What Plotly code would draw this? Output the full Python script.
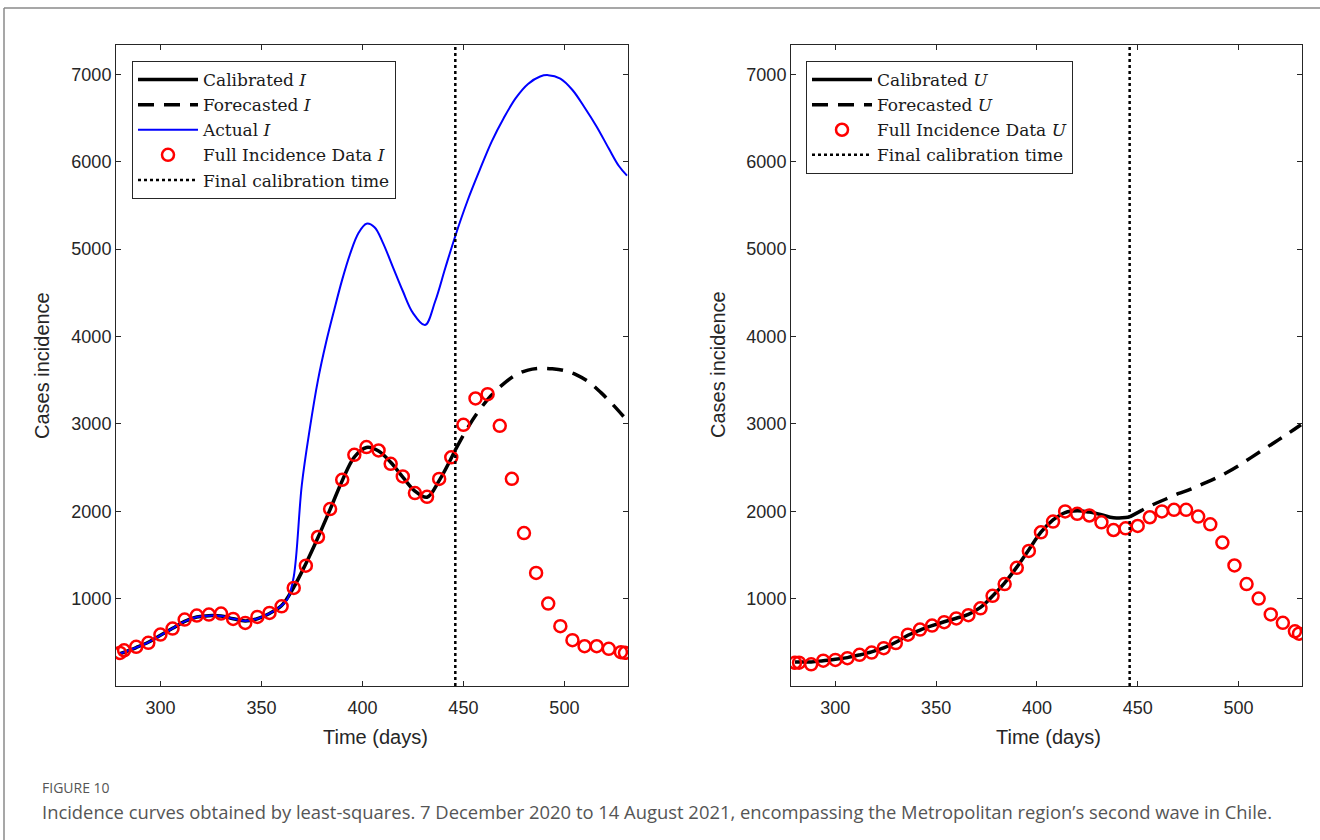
import plotly.graph_objects as go

# ---------------- data ----------------
t_data = [280, 282, 288, 294, 300, 306, 312, 318, 324, 330, 336, 342, 348, 354, 360, 366,
          372, 378, 384, 390, 396, 402, 408, 414, 420, 426, 432, 438, 444, 450, 456, 462,
          468, 474, 480, 486, 492, 498, 504, 510, 516, 522, 528, 530]

I_data = [379, 409, 448, 494, 589, 657, 760, 806, 817, 829, 768, 722, 791, 836, 912, 1122,
          1377, 1705, 2025, 2360, 2646, 2734, 2695, 2543, 2398, 2208, 2165, 2370, 2617, 2989, 3290, 3339,
          2977, 2371, 1750, 1294, 943, 684, 524, 455, 455, 425, 387, 380]

U_data = [267, 267, 248, 290, 298, 318, 357, 383, 433, 491, 587, 646, 691, 730, 773, 811,
          889, 1032, 1167, 1352, 1545, 1758, 1881, 1997, 1970, 1951, 1873, 1785, 1804, 1831, 1931, 1997,
          2016, 2016, 1939, 1850, 1642, 1379, 1167, 1001, 819, 723, 626, 599]

t_cal = [280, 288, 294, 300, 306, 312, 318, 324, 330, 336, 342, 348, 354, 360, 366, 372,
         378, 384, 390, 396, 402, 408, 414, 420, 426, 432, 438, 446]
I_cal = [370, 440, 500, 580, 660, 740, 790, 805, 800, 770, 745, 770, 830, 920, 1130, 1400,
         1700, 2020, 2350, 2620, 2730, 2690, 2560, 2390, 2230, 2160, 2350, 2700]
U_cal = [275, 275, 290, 305, 325, 355, 390, 435, 500, 580, 640, 690, 735, 775, 820, 900,
         1030, 1180, 1360, 1560, 1760, 1900, 1985, 2005, 1990, 1960, 1925, 1935]

t_fc = [446, 452, 458, 464, 470, 476, 482, 488, 494, 500, 506, 512, 518, 524, 531]
I_fc = [2700, 2950, 3160, 3330, 3460, 3560, 3615, 3635, 3630, 3610, 3560, 3480, 3360, 3220, 3040]
U_fc = [1935, 2010, 2080, 2140, 2200, 2250, 2310, 2370, 2440, 2520, 2610, 2700, 2790, 2880, 2990]

t_act = [280, 288, 294, 300, 306, 312, 318, 324, 330, 336, 342, 348, 354, 360, 363, 366,
         370, 374, 378, 382, 386, 390, 394, 398, 402, 406, 410, 415, 420, 425, 431, 436,
         441, 446, 452, 458, 464, 470, 476, 482, 488, 492, 498, 504, 510, 516, 522, 527, 531]
I_act = [370, 440, 500, 580, 660, 740, 790, 805, 800, 770, 745, 770, 830, 920, 1000, 1250,
         2300, 2950, 3500, 3930, 4300, 4650, 4950, 5180, 5290, 5250, 5080, 4800, 4520, 4270, 4130, 4400,
         4780, 5150, 5550, 5900, 6230, 6500, 6730, 6890, 6975, 6990, 6950, 6820, 6620, 6400, 6150, 5950, 5840]

t_final = [446, 446]
y_final = [0, 7340]

x_ticks = [300, 350, 400, 450, 500]
y_ticks = [1000, 2000, 3000, 4000, 5000, 6000, 7000]
x_range = [278, 531.5]
y_range = [0, 7335]

# ---------------- figure ----------------
W, H = 1320, 840
fig = go.Figure()

RED = "#ff0000"
BLK = "#000000"
BLUE = "#0000ff"


def add_panel(xa, ya, legend, cal, fc, data, sym, actual=None):
    fig.add_trace(go.Scatter(x=t_cal, y=cal, mode="lines", line=dict(color=BLK, width=3.5, shape="spline"),
                             name=f"Calibrated <i>{sym}</i>", xaxis=xa, yaxis=ya, legend=legend))
    fig.add_trace(go.Scatter(x=t_fc, y=fc, mode="lines",
                             line=dict(color=BLK, width=3.5, dash="16px,10px", shape="spline"),
                             name=f"Forecasted <i>{sym}</i>", xaxis=xa, yaxis=ya, legend=legend))
    if actual is not None:
        fig.add_trace(go.Scatter(x=t_act, y=actual, mode="lines", line=dict(color=BLUE, width=2, shape="spline"),
                                 name=f"Actual <i>{sym}</i>", xaxis=xa, yaxis=ya, legend=legend))
    fig.add_trace(go.Scatter(x=t_data, y=data, mode="markers",
                             marker=dict(symbol="circle-open", size=12, color=RED, line=dict(width=2.5, color=RED)),
                             name=f"Full Incidence Data <i>{sym}</i>", xaxis=xa, yaxis=ya, legend=legend))
    fig.add_trace(go.Scatter(x=t_final, y=y_final, mode="lines", line=dict(color=BLK, width=2.5, dash="dot"),
                             name="Final calibration time", xaxis=xa, yaxis=ya, legend=legend))


add_panel("x", "y", "legend", I_cal, I_fc, I_data, "I", actual=I_act)
add_panel("x2", "y2", "legend2", U_cal, U_fc, U_data, "U")

ydom = [1 - 686 / H, 1 - 45 / H]
axis_common = dict(showgrid=False, zeroline=False, showline=True, linecolor="#262626", linewidth=1,
                   mirror="allticks", ticks="inside", ticklen=5, tickcolor="#262626",
                   tickfont=dict(family="Liberation Sans, Arial", size=18, color="#262626"))

legend_common = dict(y=1 - 61 / H, xanchor="left", yanchor="top", bgcolor="white",
                     bordercolor="#262626", borderwidth=1, itemwidth=60, tracegroupgap=0,
                     font=dict(family="DejaVu Serif", size=17, color="#1a1a1a"))

fig.update_layout(
    width=W, height=H,
    margin=dict(l=0, r=0, t=0, b=0),
    paper_bgcolor="white", plot_bgcolor="white",
    xaxis=dict(domain=[116 / W, 628 / W], range=x_range, tickvals=x_ticks, anchor="y",
               ticklabelstandoff=5, **axis_common),
    yaxis=dict(domain=ydom, range=y_range, tickvals=y_ticks, anchor="x", **axis_common),
    xaxis2=dict(domain=[791 / W, 1302 / W], range=x_range, tickvals=x_ticks, anchor="y2",
                ticklabelstandoff=5, **axis_common),
    yaxis2=dict(domain=ydom, range=y_range, tickvals=y_ticks, anchor="x2", **axis_common),
    legend=dict(x=132 / W, **legend_common),
    legend2=dict(x=806 / W, **legend_common),
    showlegend=True,
)

# axis titles
title_font = dict(family="Liberation Sans, Arial", size=20, color="#262626")
for xc in [42, 718]:
    fig.add_annotation(text="Cases incidence", x=xc / W, y=1 - 365 / H, xref="paper", yref="paper",
                       showarrow=False, textangle=-90, font=title_font, xanchor="center", yanchor="middle")
for xc in [375, 1048]:
    fig.add_annotation(text="Time (days)", x=xc / W, y=1 - 737 / H, xref="paper", yref="paper",
                       showarrow=False, font=title_font, xanchor="center", yanchor="middle")

# caption
fig.add_annotation(text="FIGURE 10", x=40 / W, y=1 - 787 / H, xref="paper", yref="paper", showarrow=False,
                   xanchor="left", yanchor="middle", font=dict(family="Open Sans", size=14, color="#555555"))
fig.add_annotation(text="Incidence curves obtained by least-squares. 7 December 2020 to 14 August 2021, "
                        "encompassing the Metropolitan region’s second wave in Chile.",
                   x=40 / W, y=1 - 811 / H, xref="paper", yref="paper", showarrow=False,
                   xanchor="left", yanchor="middle", font=dict(family="Open Sans", size=18.4, color="#555555"))

# outer frame (top and left edges)
fig.add_shape(type="line", xref="paper", yref="paper", x0=4 / W, x1=1, y0=1 - 8 / H, y1=1 - 8 / H,
              line=dict(color="#8a8a8a", width=1.5))
fig.add_shape(type="line", xref="paper", yref="paper", x0=4 / W, x1=4 / W, y0=0, y1=1 - 8 / H,
              line=dict(color="#8a8a8a", width=1.5))

fig.write_html("out.html")
